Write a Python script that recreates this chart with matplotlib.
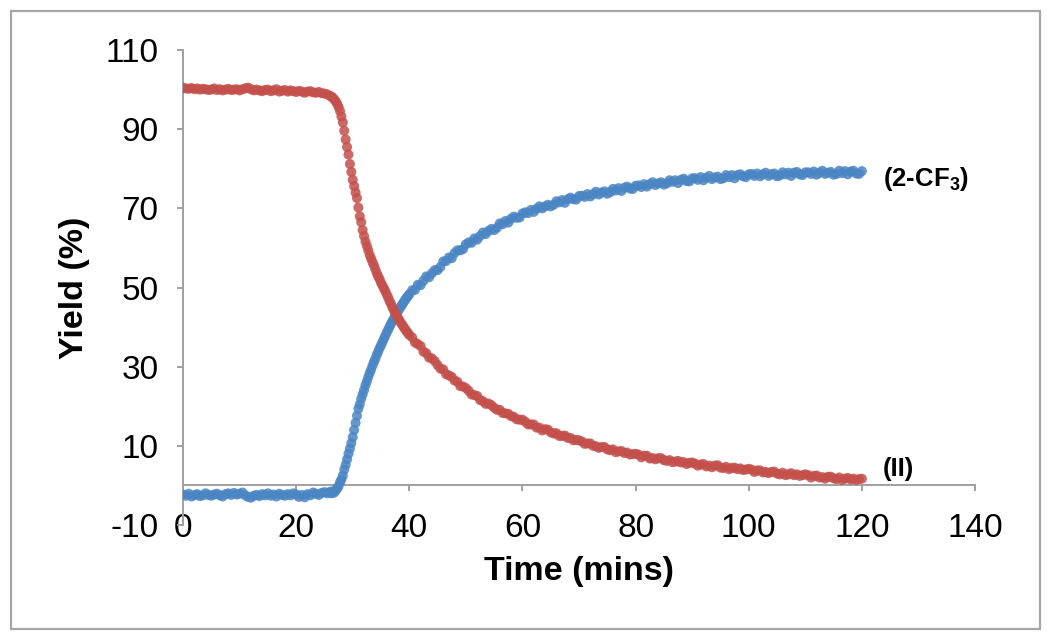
import numpy as np
import matplotlib
matplotlib.use("Agg")
import matplotlib.pyplot as plt
from matplotlib.patches import Rectangle

plt.rcParams['font.family'] = ['Liberation Sans', 'DejaVu Sans']
plt.rcParams['axes.unicode_minus'] = False
plt.rcParams['mathtext.fontset'] = 'custom'
plt.rcParams['mathtext.rm'] = 'Liberation Sans'
plt.rcParams['mathtext.bf'] = 'Liberation Sans:bold'

# sampling times (mins): plateau, fast region, slow region
t_plateau = np.linspace(0, 26, 53)
t_fast = np.linspace(26.25, 40, 56)
t_slow = np.linspace(40.5, 120, 160)

# (II) yield (%)
ii_plateau = [
    100.5, 100.3, 100.2, 100.4, 100.1, 100.3, 100.0, 100.2, 100.1, 99.9,
    100.0, 100.3, 99.9, 100.1, 99.8, 100.0, 100.2, 99.9, 100.0, 100.1,
    99.8, 100.1, 100.3, 100.5, 100.1, 99.8, 100.0, 99.8, 99.6, 99.9,
    100.0, 99.6, 99.8, 100.1, 99.5, 99.7, 99.9, 99.5, 99.8, 99.6,
    99.4, 99.7, 99.5, 99.2, 99.5, 99.6, 99.3, 99.2, 99.4, 99.1,
    99.0, 98.8, 98.4,
]
ii_fast = [
    98.2, 97.9, 97.5, 97.0, 96.4, 95.6, 94.6, 93.2, 91.7, 89.6,
    87.4, 85.5, 83.6, 81.2, 79.2, 77.2,
    75.6, 74.0, 72.6, 70.2, 68.0, 66.5, 64.5, 63.0, 61.6, 60.5,
    59.4, 58.2, 57.3, 56.4, 55.6, 54.6, 53.6, 52.8, 52.1, 51.2,
    50.5, 49.8, 49.1, 48.3, 47.5, 46.6, 45.9, 45.0, 44.3, 43.6,
    42.9, 42.3, 41.7, 41.1, 40.6, 40.0, 39.5, 39.0, 38.5, 38.0,
]
ii_slow = [
    37.4, 36.1, 35.7, 35.2, 33.8, 33.4, 32.3, 32.1, 31.4, 30.4,
    29.5, 29.3, 28.1, 27.8, 27.4, 26.5, 26.2, 25.1, 25.0, 24.6,
    23.9, 23.0, 22.8, 22.6, 21.6, 21.3, 20.6, 20.7, 20.3, 19.6,
    19.1, 19.1, 18.3, 18.2, 18.1, 17.5, 17.3, 16.7, 16.6, 16.6,
    16.1, 15.4, 15.4, 15.4, 14.6, 14.6, 13.9, 14.2, 14.1, 13.4,
    13.1, 13.2, 12.5, 12.5, 12.6, 12.0, 12.0, 11.4, 11.5, 11.4,
    11.1, 10.5, 10.6, 10.6, 10.0, 9.9, 9.5, 9.7, 9.7, 9.1,
    8.9, 9.1, 8.4, 8.6, 8.7, 8.2, 8.3, 7.8, 7.9, 8.0,
    7.8, 7.1, 7.5, 7.5, 6.8, 6.9, 6.6, 6.9, 6.9, 6.4,
    6.2, 6.4, 5.9, 6.0, 6.2, 5.8, 5.9, 5.4, 5.7, 5.8,
    5.5, 5.0, 5.3, 5.4, 4.8, 5.0, 4.6, 5.0, 5.1, 4.5,
    4.4, 4.7, 4.1, 4.4, 4.5, 4.1, 4.3, 3.9, 4.0, 4.2,
    4.0, 3.4, 3.8, 3.8, 3.3, 3.4, 3.1, 3.4, 3.5, 3.0,
    2.8, 3.2, 2.6, 2.8, 3.1, 2.6, 2.8, 2.4, 2.6, 2.8,
    2.6, 2.0, 2.4, 2.5, 2.0, 2.1, 1.7, 2.2, 2.2, 1.8,
    1.6, 2.0, 1.4, 1.7, 1.9, 1.5, 1.7, 1.4, 1.6, 1.7,
]

# (2-CF3) yield (%)
cf3_plateau = [
    -2.3, -2.6, -2.1, -2.8, -2.4, -2.2, -2.7, -2.5, -2.0, -2.4,
    -2.6, -2.3, -2.1, -2.5, -2.8, -2.2, -2.0, -2.4, -1.9, -2.3,
    -2.1, -1.8, -2.5, -2.9, -3.1, -2.6, -2.4, -2.7, -2.2, -2.5,
    -2.0, -2.6, -2.3, -2.8, -2.1, -2.4, -2.6, -2.2, -2.5, -2.0,
    -2.3, -2.9, -2.4, -3.0, -2.2, -2.5, -1.8, -2.1, -2.4, -1.9,
    -1.7, -2.0, -1.6,
]
cf3_fast = [
    -2.0, -1.5, -1.8, -1.2, -0.8, -0.2, 0.8, 1.5, 2.5, 4.0,
    5.2, 6.6, 8.0, 9.3, 10.7, 12.2,
    14.0, 15.8, 17.6, 19.4, 20.5, 21.9, 23.0, 24.1, 25.3, 26.3,
    27.4, 28.4, 29.3, 30.3, 31.2, 32.0, 33.0, 33.8, 34.7, 35.4,
    36.2, 37.0, 37.8, 38.6, 39.3, 40.1, 40.8, 41.5, 42.1, 42.8,
    43.4, 44.0, 44.6, 45.2, 45.7, 46.3, 46.8, 47.4, 47.8, 48.3,
]
cf3_slow = [
    49.3, 49.4, 50.7, 50.6, 51.7, 52.8, 52.6, 53.6, 54.4, 54.4,
    55.2, 56.6, 56.7, 57.6, 57.4, 58.7, 59.4, 59.4, 59.7, 60.9,
    61.4, 61.3, 62.4, 62.1, 63.0, 63.9, 63.5, 64.3, 64.8, 64.5,
    65.1, 66.2, 66.0, 66.8, 66.4, 67.4, 67.9, 67.6, 67.7, 68.7,
    69.0, 68.8, 69.6, 69.1, 69.9, 70.5, 70.0, 70.5, 70.9, 70.5,
    70.9, 71.8, 71.5, 72.1, 71.4, 72.3, 72.7, 72.3, 72.2, 73.1,
    73.2, 72.9, 73.6, 73.0, 73.6, 74.2, 73.5, 74.0, 74.3, 73.7,
    74.1, 74.9, 74.5, 75.1, 74.4, 75.2, 75.5, 75.0, 74.9, 75.7,
    75.8, 75.4, 76.1, 75.5, 76.1, 76.6, 75.9, 76.3, 76.6, 76.0,
    76.3, 77.1, 76.7, 77.1, 76.4, 77.2, 77.5, 76.9, 76.8, 77.6,
    77.6, 77.2, 77.9, 77.1, 77.7, 78.2, 77.4, 77.8, 78.0, 77.4,
    77.6, 78.4, 77.9, 78.4, 77.6, 78.4, 78.6, 78.1, 77.9, 78.6,
    78.7, 78.2, 78.8, 78.1, 78.6, 79.0, 78.2, 78.6, 78.8, 78.1,
    78.3, 79.1, 78.6, 79.0, 78.2, 79.0, 79.2, 78.6, 78.4, 79.1,
    79.1, 78.7, 79.3, 78.5, 79.0, 79.5, 78.7, 79.0, 79.2, 78.5,
    78.7, 79.5, 78.9, 79.4, 78.6, 79.3, 79.5, 78.8, 78.7, 79.4,
]

x_ticks = [0, 20, 40, 60, 80, 100, 120, 140]
y_ticks = [-10, 10, 30, 50, 70, 90, 110]

time = np.concatenate([t_plateau, t_fast, t_slow])
ii = np.concatenate([ii_plateau, ii_fast, ii_slow])
cf3 = np.concatenate([cf3_plateau, cf3_fast, cf3_slow])

axis_grey = '#A0A0A0'

fig = plt.figure(figsize=(10.5, 6.38), dpi=100)
ax = fig.add_axes([0.1743, 0.1771, 0.7543, 0.7445])

ax.scatter(time, cf3, s=52, color='#4A85C4', edgecolors='none', alpha=0.85, zorder=3)
ax.scatter(time, ii, s=52, color='#C4504C', edgecolors='none', alpha=0.85, zorder=4)

ax.set_xlim(0, 140)
ax.set_ylim(-10, 110)
ax.set_xticks(x_ticks)
ax.set_yticks(y_ticks)

for side in ['top', 'right', 'bottom']:
    ax.spines[side].set_visible(False)
ax.spines['left'].set_color(axis_grey)
ax.spines['left'].set_linewidth(1.4)

ax.tick_params(axis='y', direction='out', length=4.5, width=1.4, color=axis_grey,
               labelsize=24, pad=13)
ax.tick_params(axis='x', length=0, labelsize=24, pad=-8.5)

# x axis line crosses at y = 0
sec = ax.secondary_xaxis(10 / 120)
sec.set_xticks(x_ticks)
sec.tick_params(axis='x', direction='out', length=4.5, width=1.4, color=axis_grey,
                labelbottom=False, labeltop=False)
sec.spines['bottom'].set_color(axis_grey)
sec.spines['bottom'].set_linewidth(1.4)

ax.set_xlabel('Time (mins)', fontsize=24.5, fontweight='bold')
ax.xaxis.set_label_coords(0.5, -0.066)
ax.set_ylabel('Yield (%)', fontsize=24.5, fontweight='bold')
ax.yaxis.set_label_coords(-0.118, 0.5)

ax.text(123.7, 77.5, r'(2-CF$_\mathbf{3}$)', fontsize=18.5, fontweight='bold',
        ha='left', va='center', clip_on=False)
ax.text(123.7, 4.2, '(II)', fontsize=18.5, fontweight='bold',
        ha='left', va='center', clip_on=False)

fig.add_artist(Rectangle((11 / 1050, 9 / 638), 1029 / 1050, 618 / 638,
                         transform=fig.transFigure, fill=False,
                         edgecolor='#A6A6A6', linewidth=1.6))

fig.savefig('out.png', dpi=100)
